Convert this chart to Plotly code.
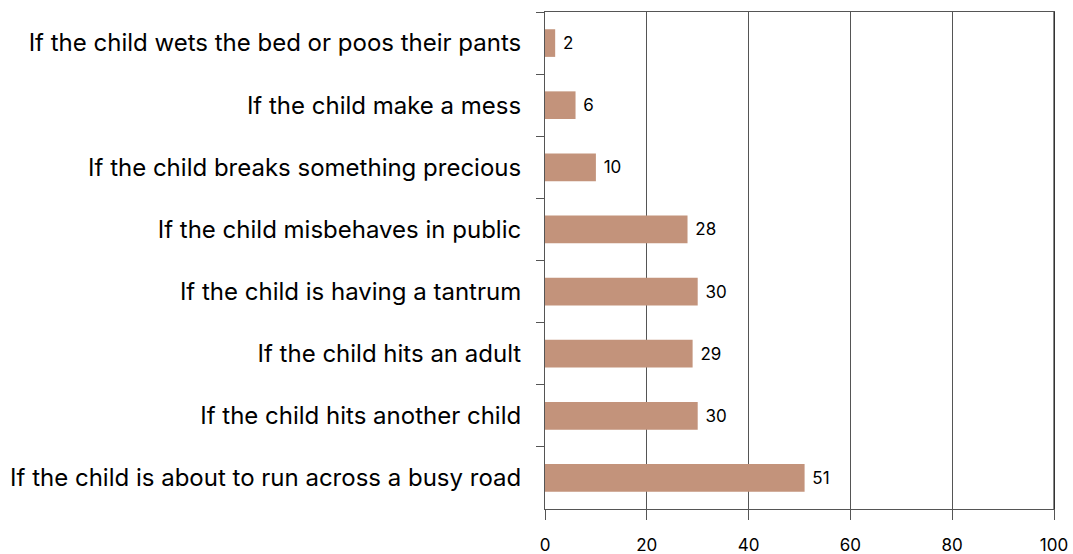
import plotly.graph_objects as go

categories = [
    "If the child wets the bed or poos their pants",
    "If the child make a mess",
    "If the child breaks something precious",
    "If the child misbehaves in public",
    "If the child is having a tantrum",
    "If the child hits an adult",
    "If the child hits another child",
    "If the child is about to run across a busy road",
]
values = [2, 6, 10, 28, 30, 29, 30, 51]
x_ticks = [0, 20, 40, 60, 80, 100]

FONT = "Inter, Liberation Sans, Arial, sans-serif"

fig = go.Figure(go.Bar(
    y=categories, x=values, orientation="h",
    marker=dict(color="#C3937B", line=dict(width=0)),
    text=[" " + str(v) for v in values], textposition="outside",
    textfont=dict(size=17, color="#000000", family=FONT),
    cliponaxis=False,
))

fig.update_layout(
    width=1073, height=554,
    margin=dict(l=545, r=19, t=12, b=45),
    paper_bgcolor="white", plot_bgcolor="white",
    bargap=0.555, showlegend=False,
    font=dict(family=FONT, color="#000000"),
    shapes=[dict(type="line", xref="paper", yref="paper", x0=1, x1=1, y0=0, y1=1,
                 line=dict(color="#111111", width=1))],
)
fig.update_xaxes(
    range=[0, 100], tickvals=x_ticks, ticktext=[str(t) for t in x_ticks],
    showgrid=True, gridcolor="#555555", gridwidth=1,
    showline=True, linecolor="#555555", linewidth=1, mirror=True,
    ticks="outside", ticklen=10, tickcolor="#555555",
    tickfont=dict(size=17), ticklabelstandoff=11,
    zeroline=False, automargin=False,
)
fig.update_yaxes(
    categoryorder="array", categoryarray=categories, autorange="reversed",
    showline=True, linecolor="#555555", linewidth=1, mirror=True,
    ticks="outside", ticklen=8, tickcolor="#555555", tickson="boundaries",
    tickfont=dict(size=24), ticklabelstandoff=18, showgrid=False,
    automargin=False,
)

fig.write_html("out.html", config={"displayModeBar": False},
               post_script="document.body.style.margin='0';")
